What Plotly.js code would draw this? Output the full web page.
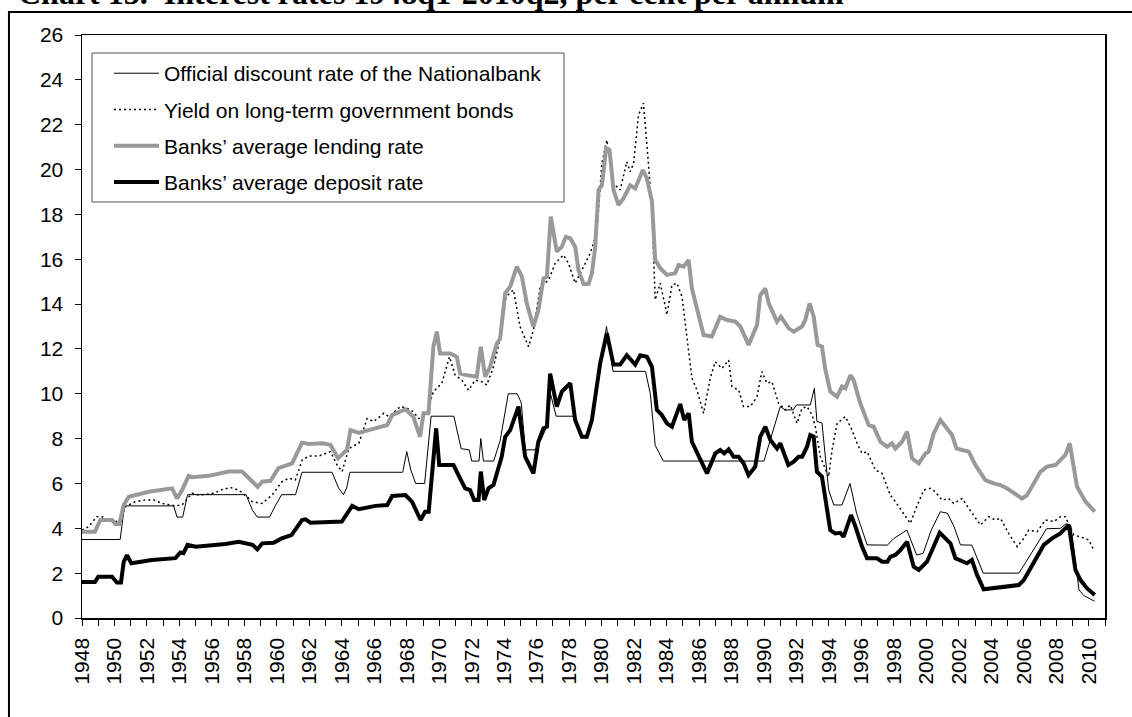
<!DOCTYPE html>
<html>
<head>
<meta charset="utf-8">
<script src="https://cdn.plot.ly/plotly-3.0.1.min.js"></script>
<style>
  html, body { margin: 0; padding: 0; background: #ffffff; }
  #chart { width: 1132px; height: 717px; }
</style>
</head>
<body>
<div id="chart"></div>
<script>
// ---- Data (decimal years, per cent per annum) ----
const discountYears = [1948.0,1950.35,1950.6,1950.75,1953.65,1953.85,1954.2,1954.5,1958.1,1958.5,1958.8,1959.55,1959.9,1960.3,1961.15,1961.55,1963.4,1963.8,1964.1,1964.3,1964.5,1967.75,1968.0,1968.25,1968.55,1969.1,1969.5,1970.9,1971.35,1971.85,1972.0,1972.45,1972.56,1972.72,1973.35,1973.75,1974.25,1974.8,1975.05,1975.3,1975.9,1976.3,1976.6,1976.85,1977.2,1978.3,1978.8,1979.1,1979.4,1979.9,1980.3,1980.7,1982.7,1983.0,1983.3,1983.8,1990.0,1990.2,1990.6,1991.0,1991.3,1991.8,1992.0,1992.85,1993.1,1993.26,1993.57,1993.98,1994.3,1994.8,1995.3,1995.7,1996.35,1997.6,1998.0,1998.8,1999.4,1999.8,2000.3,2000.86,2001.3,2001.7,2002.1,2002.8,2003.5,2005.7,2006.4,2007.4,2008.25,2008.6,2008.9,2009.4,2009.7,2010.35];
const discountRates = [3.5,3.5,4.9,5.0,5.0,4.5,4.5,5.5,5.5,4.8,4.5,4.5,5.0,5.5,5.5,6.5,6.5,5.8,5.5,5.8,6.5,6.5,7.42,6.6,6.0,6.0,9.0,9.0,7.55,7.5,7.0,7.0,8.0,7.0,7.0,7.9,10.0,10.0,9.6,7.5,7.5,8.0,8.5,10.0,9.0,9.0,8.1,8.0,8.8,11.0,13.0,11.0,11.0,10.0,7.7,7.0,7.0,7.5,8.46,9.43,9.28,9.28,9.5,9.5,10.24,8.76,8.7,5.71,5.04,5.04,6.0,4.67,3.26,3.25,3.55,3.92,2.81,2.88,3.92,4.74,4.67,4.08,3.26,3.25,2.0,2.0,2.81,3.98,4.0,4.2,4.1,1.25,1.0,0.75];

const yieldYears = [1948.0,1948.4,1948.92,1949.23,1949.54,1950.05,1950.36,1950.67,1951.29,1951.9,1952.42,1952.93,1953.75,1954.16,1954.78,1955.19,1956.11,1956.63,1957.14,1957.65,1958.17,1958.47,1959.09,1959.7,1960.32,1960.73,1961.14,1961.55,1961.97,1962.58,1963.3,1963.71,1964.02,1964.43,1965.05,1965.56,1965.97,1966.59,1966.9,1967.61,1968.02,1968.4,1968.74,1969.23,1969.64,1970.16,1970.63,1970.98,1971.39,1971.8,1972.21,1972.62,1972.93,1973.34,1973.75,1974.12,1974.57,1974.98,1975.5,1975.8,1976.22,1976.73,1977.14,1977.65,1977.96,1978.37,1978.89,1979.3,1979.7,1980.02,1980.32,1980.73,1981.14,1981.55,1981.76,1981.97,1982.27,1982.58,1982.89,1983.1,1983.3,1983.61,1983.92,1984.02,1984.33,1984.64,1984.95,1985.25,1985.56,1985.87,1986.28,1986.69,1987.0,1987.41,1987.82,1988.03,1988.44,1988.74,1989.16,1989.57,1989.87,1990.18,1990.49,1990.9,1991.31,1991.62,1992.03,1992.34,1992.65,1992.96,1993.16,1993.47,1993.98,1994.19,1994.5,1995.01,1995.42,1995.73,1996.04,1996.35,1996.86,1997.27,1997.78,1998.09,1998.6,1999.01,1999.32,1999.84,2000.24,2000.55,2000.96,2001.37,2001.68,2002.2,2002.61,2003.33,2003.84,2004.25,2004.56,2005.07,2005.59,2006.0,2006.3,2006.82,2007.33,2007.85,2008.25,2008.56,2009.08,2009.49,2010.0,2010.31];
const yieldRates = [3.92,4.07,4.52,4.52,4.37,4.3,4.3,4.97,5.19,5.26,5.26,5.11,5.0,5.04,5.56,5.48,5.56,5.73,5.82,5.7,5.41,5.19,5.11,5.48,6.08,6.23,6.16,7.04,7.22,7.22,7.42,6.82,6.53,7.56,7.79,8.9,8.76,9.13,8.98,9.43,9.35,9.2,8.9,9.13,10.1,10.47,11.65,10.83,10.61,10.16,10.61,10.54,10.39,11.2,12.46,14.33,14.63,12.99,12.1,12.84,14.78,15.07,15.82,16.19,15.82,14.93,15.67,16.27,17.17,20.28,21.32,19.39,19.09,20.35,19.9,20.28,22.43,22.96,20.2,18.2,14.19,14.93,13.89,13.52,14.85,14.93,14.33,12.55,10.7,10.17,9.13,10.7,11.43,11.13,11.5,10.32,10.17,9.43,9.43,9.87,10.99,10.47,10.54,9.57,9.28,9.5,8.68,9.35,9.43,9.06,8.53,7.19,6.3,7.49,8.68,8.98,8.38,7.79,7.34,7.42,6.6,6.45,5.48,5.19,4.67,4.22,4.82,5.71,5.78,5.63,5.26,5.33,5.11,5.33,4.89,4.15,4.52,4.37,4.45,3.77,3.18,3.55,3.92,3.85,4.37,4.3,4.52,4.52,3.7,3.62,3.48,3.03];

const lendingYears = [1948.0,1948.8,1949.13,1949.85,1950.05,1950.3,1950.57,1950.88,1952.1,1953.55,1953.85,1954.16,1954.57,1954.78,1955.8,1957.04,1957.86,1958.37,1958.82,1959.1,1959.6,1960.1,1960.53,1960.94,1961.55,1961.97,1962.79,1963.3,1963.77,1964.33,1964.53,1965.05,1965.66,1966.8,1967.1,1967.92,1968.4,1968.82,1969.03,1969.34,1969.64,1969.85,1970.05,1970.67,1971.08,1971.29,1971.7,1972.31,1972.56,1972.83,1973.13,1973.55,1973.75,1974.06,1974.37,1974.78,1975.09,1975.39,1975.8,1976.11,1976.42,1976.63,1976.87,1977.24,1977.55,1977.8,1978.07,1978.37,1978.58,1978.89,1979.2,1979.4,1979.6,1979.81,1980.02,1980.28,1980.49,1980.73,1981.04,1981.35,1981.76,1982.07,1982.54,1982.79,1983.1,1983.3,1983.61,1984.02,1984.53,1984.74,1985.05,1985.36,1985.56,1985.87,1986.28,1986.79,1987.3,1987.72,1988.23,1988.54,1989.05,1989.57,1989.77,1990.08,1990.29,1990.8,1991.04,1991.52,1991.83,1992.34,1992.54,1992.81,1993.06,1993.3,1993.57,1993.78,1994.08,1994.5,1994.8,1995.01,1995.32,1995.52,1995.93,1996.45,1996.75,1997.17,1997.58,1997.88,1998.09,1998.5,1998.81,1999.12,1999.53,1999.94,2000.14,2000.45,2000.86,2001.58,2001.85,2002.2,2002.61,2003.02,2003.63,2004.15,2004.56,2004.97,2005.38,2005.89,2006.2,2007.02,2007.43,2007.95,2008.25,2008.56,2008.83,2009.28,2009.8,2010.37];
const lendingRates = [3.85,3.85,4.37,4.37,4.19,4.19,5.04,5.41,5.63,5.78,5.33,5.7,6.34,6.28,6.34,6.53,6.53,6.16,5.85,6.08,6.12,6.68,6.79,6.9,7.82,7.76,7.79,7.72,7.12,7.52,8.38,8.26,8.38,8.61,9.05,9.31,8.98,8.08,9.13,9.13,12.1,12.77,11.8,11.8,11.65,10.9,10.83,10.76,12.1,10.76,11.2,12.24,12.46,14.48,14.78,15.67,15.22,14.03,12.99,13.74,15.15,15.22,17.9,16.34,16.56,17.0,16.93,16.56,15.5,14.9,14.9,15.37,16.5,19.09,19.3,20.95,20.87,19.09,18.42,18.72,19.3,19.16,19.98,19.6,18.57,15.97,15.6,15.3,15.37,15.74,15.67,15.97,14.7,13.74,12.62,12.55,13.44,13.29,13.22,13.0,12.18,13.07,14.4,14.7,14.03,13.22,13.44,12.92,12.77,13.0,13.29,14.03,13.44,12.18,12.1,11.06,10.1,9.87,10.32,10.24,10.83,10.61,9.57,8.6,8.53,7.86,7.64,7.79,7.56,7.86,8.31,7.12,6.9,7.34,7.42,8.23,8.83,8.16,7.56,7.49,7.42,6.82,6.15,6.0,5.93,5.78,5.56,5.33,5.48,6.52,6.75,6.82,7.04,7.27,7.79,5.85,5.19,4.74];

const depositYears = [1948.0,1948.8,1949.0,1949.85,1950.15,1950.4,1950.57,1950.77,1951.04,1952.3,1953.75,1954.06,1954.25,1954.5,1955.0,1956.83,1957.65,1958.5,1958.8,1959.1,1959.8,1960.3,1960.9,1961.55,1961.76,1962.07,1964.0,1964.64,1965.05,1966.07,1966.8,1967.1,1967.92,1968.33,1968.85,1969.13,1969.35,1969.81,1970.0,1970.88,1971.29,1971.6,1971.9,1972.15,1972.42,1972.56,1972.77,1973.03,1973.34,1973.65,1973.85,1974.06,1974.37,1974.88,1975.29,1975.8,1976.1,1976.42,1976.63,1976.83,1977.24,1977.55,1978.07,1978.37,1978.78,1979.09,1979.4,1979.91,1980.32,1980.73,1981.14,1981.55,1982.07,1982.38,1982.79,1983.1,1983.4,1983.7,1984.02,1984.33,1984.84,1985.09,1985.36,1985.56,1986.49,1987.0,1987.3,1987.55,1987.82,1988.13,1988.44,1988.74,1989.05,1989.46,1989.77,1990.08,1990.39,1990.8,1991.0,1991.5,1991.83,1992.13,1992.35,1992.65,1992.85,1993.06,1993.26,1993.57,1993.88,1994.08,1994.39,1994.7,1994.9,1995.36,1995.63,1996.04,1996.35,1996.96,1997.27,1997.6,1997.78,1998.09,1998.4,1998.81,1999.22,1999.53,2000.04,2000.35,2000.82,2001.17,2001.48,2001.79,2002.2,2002.5,2002.8,2003.12,2003.53,2003.94,2005.69,2006.0,2006.6,2007.23,2007.74,2008.25,2008.77,2009.18,2009.49,2009.9,2010.37];
const depositRates = [1.6,1.6,1.84,1.84,1.58,1.58,2.5,2.8,2.44,2.59,2.67,2.92,2.89,3.26,3.18,3.3,3.4,3.26,3.06,3.33,3.36,3.55,3.7,4.37,4.4,4.25,4.3,5.0,4.85,5.0,5.04,5.44,5.48,5.18,4.37,4.74,4.74,8.46,6.82,6.82,6.22,5.78,5.7,5.26,5.26,6.53,5.26,5.78,5.93,6.75,7.2,8.08,8.38,9.43,7.2,6.45,7.85,8.46,8.53,10.9,9.43,10.1,10.47,8.83,8.08,8.08,8.83,11.36,12.7,11.3,11.3,11.72,11.3,11.72,11.65,11.2,9.28,9.06,8.68,8.53,9.54,8.83,9.13,7.86,6.45,7.34,7.49,7.34,7.52,7.19,7.19,6.9,6.37,6.75,8.09,8.53,7.94,7.56,7.79,6.82,6.97,7.19,7.19,7.64,8.16,8.09,6.52,6.3,4.96,3.92,3.77,3.8,3.62,4.59,4.08,3.18,2.66,2.66,2.51,2.51,2.73,2.81,3.03,3.4,2.29,2.14,2.51,3.03,3.8,3.55,3.33,2.66,2.51,2.44,2.59,1.92,1.28,1.32,1.47,1.69,2.44,3.26,3.55,3.77,4.15,2.14,1.69,1.32,1.03];

const seriesNames = [
  'Official discount rate of the Nationalbank',
  'Yield on long-term government bonds',
  'Banks\u2019 average lending rate',
  'Banks\u2019 average deposit rate'
];
const chartTitle = 'Chart 13.  Interest rates 1948q1-2010q2, per cent per annum';
const yearTicks = [];
for (let y = 1948; y <= 2011; y++) yearTicks.push(y);
const yearLabels = yearTicks.map(y => (y % 2 === 0 ? String(y) : ''));

const FONT = 'Liberation Sans, Arial, sans-serif';
const FS = 21;

const traces = [
  { x: discountYears, y: discountRates, name: seriesNames[0], legendgroup: 'a',
    mode: 'lines', line: { color: '#000000', width: 1 } },
  { x: yieldYears, y: yieldRates, name: seriesNames[1], legendgroup: 'b',
    mode: 'lines', line: { color: '#000000', width: 1.5, dash: '2px,3px' } },
  { x: lendingYears, y: lendingRates, name: seriesNames[2], legendgroup: 'c',
    mode: 'lines', line: { color: '#999999', width: 4 } },
  { x: depositYears, y: depositRates, name: seriesNames[3], legendgroup: 'd',
    mode: 'lines', line: { color: '#000000', width: 4 } }
];

const layout = {
  width: 1132, height: 717,
  margin: { l: 82, r: 27, t: 35, b: 99 },
  paper_bgcolor: '#ffffff', plot_bgcolor: '#ffffff',
  font: { family: FONT, size: FS, color: '#000000' },
  title: {
    text: chartTitle,
    font: { family: 'Liberation Serif, Times New Roman, serif', size: 32, weight: 'bold', color: '#000000' },
    xref: 'container', x: 18 / 1132, xanchor: 'left',
    yref: 'container', y: 1 - 4 / 717, yanchor: 'bottom'
  },
  showlegend: true,
  legend: {
    x: 0.0264, y: 0.969, xanchor: 'left', yanchor: 'top',
    bgcolor: 'rgba(0,0,0,0)', borderwidth: 0,
    font: { family: FONT, size: FS, color: '#000000' },
    tracegroupgap: 6, itemwidth: 45
  },
  xaxis: {
    range: [1948, 2011], tickmode: 'array', tickvals: yearTicks, ticktext: yearLabels,
    tickangle: -90, ticks: 'outside', ticklen: 6, tickcolor: '#000000', tickwidth: 1,
    ticklabelstandoff: 4,
    showline: true, linecolor: '#000000', linewidth: 1.5, mirror: true,
    showgrid: false, zeroline: false,
    tickfont: { family: FONT, size: FS, color: '#000000' }
  },
  yaxis: {
    range: [0, 26], dtick: 2, tick0: 0, ticks: 'outside', ticklen: 6, tickcolor: '#000000', tickwidth: 1,
    ticklabelstandoff: 7,
    showline: true, linecolor: '#000000', linewidth: 1.5, mirror: true,
    showgrid: false, zeroline: false,
    tickfont: { family: FONT, size: FS, color: '#000000' }
  },
  shapes: [
    { type: 'rect', xref: 'paper', yref: 'paper', x0: -0.0714, x1: 1.2, y0: -0.5, y1: 1.0395,
      line: { color: '#000000', width: 2 }, fillcolor: 'rgba(0,0,0,0)', layer: 'below' },
    { type: 'rect', xref: 'paper', yref: 'paper', x0: 0.0098, x1: 0.4712, y0: 0.7136, y1: 0.9691,
      line: { color: '#555555', width: 1 }, fillcolor: '#ffffff', layer: 'above' }
  ]
};

Plotly.newPlot('chart', traces, layout, { displayModeBar: false, staticPlot: true });
</script>
</body>
</html>
